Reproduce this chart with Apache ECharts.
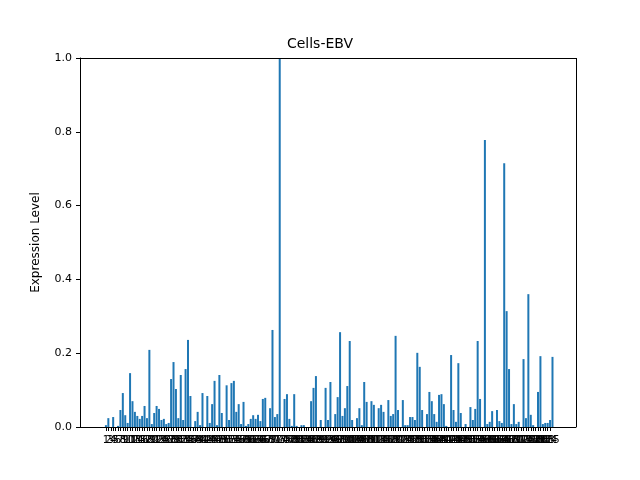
<!DOCTYPE html>
<html>
<head>
    <meta charset="utf-8">
    <script src="https://cdn.jsdelivr.net/npm/echarts@6/dist/echarts.min.js"></script>
</head>
<body style="margin:0">
<div id="main" style="width: 640px;height:480px;"></div>
<script>
    // 每个细胞的表达量
    var values = [
        0, 0.005, 0.024, 0, 0.027, 0, 0.003, 0.046, 0.092, 0.032, 0.011, 0.146, 0.070, 0.041,
        0.030, 0.022, 0.030, 0.057, 0.024, 0.209, 0.008, 0.038, 0.057, 0.049, 0.019, 0.022, 0.008, 0.011,
        0.130, 0.176, 0.103, 0.024, 0.141, 0.019, 0.157, 0.236, 0.084, 0, 0.016, 0.041, 0.005, 0.092,
        0, 0.084, 0.011, 0.062, 0.125, 0.005, 0.141, 0.038, 0, 0.113, 0.019, 0.119, 0.125, 0.041, 0.062,
        0.008, 0.068, 0.003, 0.008, 0.022, 0.032,
        0.022, 0.033, 0.016, 0.076, 0.079, 0, 0.051, 0.263, 0.027, 0.035, 1.0, 0, 0.076, 0.089, 0.022,
        0.003, 0.089, 0.003, 0, 0.005, 0.005, 0, 0, 0.070, 0.106, 0.138, 0, 0.019, 0, 0.106, 0.019, 0.122,
        0, 0.035, 0.081, 0.257, 0.030, 0.051, 0.111, 0.233, 0.019, 0, 0.024, 0.051, 0.005, 0.122, 0.068,
        0, 0.070, 0.060, 0, 0.051, 0.060, 0.041, 0, 0.073, 0.030, 0.035, 0.247, 0.046, 0, 0.073, 0.005,
        0.005, 0.027, 0.027, 0.019, 0.201, 0.163, 0.046, 0, 0.035, 0.095, 0.070, 0.035, 0.014, 0.087,
        0.089, 0.062, 0.003, 0, 0.195, 0.046, 0.014, 0.173, 0.038, 0, 0.008, 0, 0.054, 0.019, 0.049,
        0.233, 0.076, 0, 0.778, 0.008, 0.014, 0.043, 0, 0.046, 0.016, 0.011, 0.715, 0.314, 0.157, 0.008,
        0.062, 0.008, 0.014, 0, 0.184, 0.024, 0.360, 0.033, 0.005, 0, 0.095, 0.192, 0.008, 0.011, 0.011,
        0.019, 0.190
    ];
    var yTicks = [0, 0.2, 0.4, 0.6, 0.8, 1.0];

    var n = values.length;
    var pad = (n - 1 + 0.8) * 0.05 + 0.4;
    var barData = [];
    var xTicks = [];
    for (var i = 0; i < n; i++) {
        barData.push([i, values[i]]);
        xTicks.push(i);
    }

    var myChart = echarts.init(document.getElementById('main'));
    var option = {
        animation: false,
        title: {
            text: 'Cells-EBV',
            left: 'center',
            top: 32,
            textStyle: {fontFamily: 'DejaVu Sans', fontSize: 14, fontWeight: 'normal', color: '#000'}
        },
        grid: {left: 80, right: 64, top: 58, bottom: 53},
        xAxis: {
            type: 'value',
            min: -pad,
            max: n - 1 + pad,
            axisLine: {onZero: false, lineStyle: {color: '#000'}},
            axisTick: {length: 4, customValues: xTicks, lineStyle: {color: '#000'}},
            splitLine: {show: false},
            axisLabel: {
                color: '#000', fontFamily: 'DejaVu Sans', fontSize: 10,
                customValues: xTicks,
                formatter: function (v) { return String(Math.round(v)); }
            }
        },
        yAxis: {
            type: 'value',
            min: 0,
            max: 1,
            interval: 0.2,
            name: 'Expression Level',
            nameLocation: 'middle',
            nameGap: 38,
            nameTextStyle: {fontFamily: 'DejaVu Sans', fontSize: 12, color: '#000'},
            axisLine: {show: true, onZero: false, lineStyle: {color: '#000'}},
            axisTick: {show: true, length: 4, customValues: yTicks, lineStyle: {color: '#000'}},
            splitLine: {show: false},
            axisLabel: {
                color: '#000', fontFamily: 'DejaVu Sans', fontSize: 11,
                customValues: yTicks,
                formatter: function (v) { return v.toFixed(1); }
            }
        },
        series: [{
            type: 'bar',
            data: barData,
            barWidth: 2,
            itemStyle: {color: '#1f77b4'}
        }, {
            // 右侧和上侧边框
            type: 'line', data: [], markLine: {
                silent: true, symbol: 'none', label: {show: false},
                lineStyle: {color: '#000', type: 'solid', width: 1},
                data: [[{coord: [-pad, 1]}, {coord: [n - 1 + pad, 1]}],
                       [{coord: [n - 1 + pad, 0]}, {coord: [n - 1 + pad, 1]}]]
            }
        }]
    };
    myChart.setOption(option);
</script>
</body>
</html>
